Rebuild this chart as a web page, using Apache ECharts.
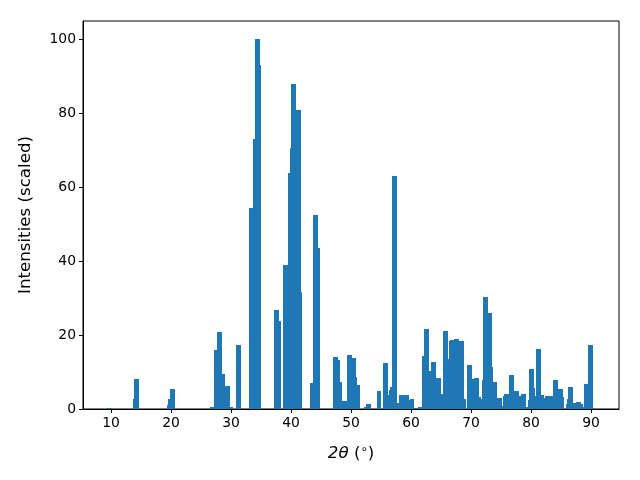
<!DOCTYPE html>
<html>
<head>
<meta charset="utf-8">
<script src="https://cdn.jsdelivr.net/npm/echarts@6/dist/echarts.min.js"></script>
<style>html,body{margin:0;padding:0;background:#fff}#c{width:640px;height:480px}</style>
</head>
<body>
<div id="c"></div>
<script>
// peak positions (2θ, degrees)
const positions = [
  9.75, 14.05, 14.2, 19.7, 19.85, 20.23, 26.9, 27.57, 28.1, 28.6, 29.43, 29.93, 31.23,
  33.4, 34.07, 34.4, 34.6, 37.57, 37.93, 39.07, 39.9, 40.23, 40.4, 41.27, 41.43,
  43.57, 44.07, 44.43, 47.4, 47.77, 48.1, 48.92, 49.73, 50.43, 50.6, 51.1, 52.57, 52.93,
  54.67, 55.73, 56.3, 56.57, 56.75, 56.9, 57.25, 57.6, 58.4, 59.27, 59.43, 60.17, 60.77, 61.57,
  62.23, 62.58, 62.93, 63.75, 64.58, 64.93, 65.75, 65.93, 66.73, 66.9, 67.58, 68.42, 68.77,
  69.75, 70.57, 70.92, 71.27, 71.43, 72.23, 72.42, 73.1, 73.27, 73.93, 74.75, 74.93,
  75.75, 75.93, 76.73, 76.77, 77.58, 77.93, 78.75, 79.1, 79.9, 80.08, 80.27, 80.43,
  81.25, 81.77, 81.93, 82.73, 83.27, 84.08, 84.27, 84.93, 85.1, 86.23, 86.4, 86.58,
  87.1, 87.92, 88.27, 88.43, 89.25, 89.93, 90.1
];
// scaled intensities
const intensities = [
  0.4, 2.8, 8.1, 1.1, 2.7, 5.4, 0.5, 16, 20.8, 9.5, 6.2, 0.5, 17.3,
  54.5, 73.2, 100, 93, 26.8, 23.8, 39, 64, 70.5, 88, 81, 31.7,
  7, 52.6, 43.6, 14.1, 13.3, 7.3, 2.2, 14.6, 13.8, 8.7, 6.5, 0.5, 1.4,
  4.9, 12.5, 2.7, 3.8, 5.2, 5.9, 63.1, 1.6, 3.8, 3.8, 2.4, 2.7, 0.3, 0.5,
  14.3, 21.7, 10.3, 12.7, 8.4, 4.1, 21.1, 13.5, 18.4, 18.7, 19, 18.4, 2.7,
  11.9, 8.1, 8.4, 3.3, 2.7, 7.9, 30.4, 26, 11.4, 7.3, 3, 0.8,
  3.5, 4.1, 9.2, 2.7, 4.9, 3.5, 4.1, 0.5, 2.4, 10.8, 5.7, 3.5,
  16.3, 3.8, 3, 3.5, 3.5, 7.9, 2.4, 5.4, 3.3, 1.4, 2.7, 6,
  1.6, 1.9, 1.4, 0.5, 6.8, 17.3, 0.3
];
const xTicks = [10, 20, 30, 40, 50, 60, 70, 80, 90];
const yTicks = [0, 20, 40, 60, 80, 100];

const BAR_W = 0.8;
const FONT = 'DejaVu Sans';
const data = positions.map((p, i) => [p, intensities[i]]);

const chart = echarts.init(document.getElementById('c'), null, {renderer: 'canvas'});
chart.setOption({
  animation: false,
  backgroundColor: '#fff',
  grid: {left: 83, right: 21, top: 21, bottom: 71, show: true, borderColor: '#000', borderWidth: 1, backgroundColor: 'transparent'},
  xAxis: {
    type: 'value', min: 5.33, max: 94.67,
    name: '{i|2θ} ({s|∘})',
    nameLocation: 'middle', nameGap: 35,
    nameTextStyle: {
      fontFamily: FONT, fontSize: 16.67, color: '#000',
      rich: {
        i: {fontFamily: FONT, fontSize: 16.67, fontStyle: 'italic', color: '#000'},
        s: {fontFamily: FONT, fontSize: 11.7, color: '#000', verticalAlign: 'top', padding: [0, 0, 8, 0]}
      }
    },
    splitLine: {show: false},
    axisLine: {show: true, onZero: false, lineStyle: {color: '#000', width: 1}},
    axisTick: {show: true, length: 4, lineStyle: {color: '#000'}, customValues: xTicks},
    axisLabel: {fontFamily: FONT, fontSize: 13.9, color: '#000', margin: 7, customValues: xTicks}
  },
  yAxis: {
    type: 'value', min: 0, max: 105,
    name: 'Intensities (scaled)', nameLocation: 'middle', nameGap: 49,
    nameTextStyle: {fontFamily: FONT, fontSize: 16.67, color: '#000'},
    splitLine: {show: false},
    axisLine: {show: true, lineStyle: {color: '#000', width: 1}},
    axisTick: {show: true, length: 4, lineStyle: {color: '#000'}, customValues: yTicks},
    axisLabel: {fontFamily: FONT, fontSize: 13.9, color: '#000', margin: 7, customValues: yTicks}
  },
  series: [{
    type: 'custom',
    data: data,
    encode: {x: 0, y: 1},
    clip: true,
    renderItem: function (params, api) {
      const x = api.value(0), h = api.value(1);
      const p0 = api.coord([x - BAR_W / 2, h]);
      const p1 = api.coord([x + BAR_W / 2, 0]);
      const x0 = Math.round(p0[0]), x1 = Math.round(p1[0]);
      const y0 = Math.round(p0[1]), y1 = Math.round(p1[1]);
      return {
        type: 'rect',
        shape: {x: x0, y: y0, width: x1 - x0, height: y1 - y0},
        style: {fill: '#1f77b4'}
      };
    }
  }]
});
</script>
</body>
</html>
